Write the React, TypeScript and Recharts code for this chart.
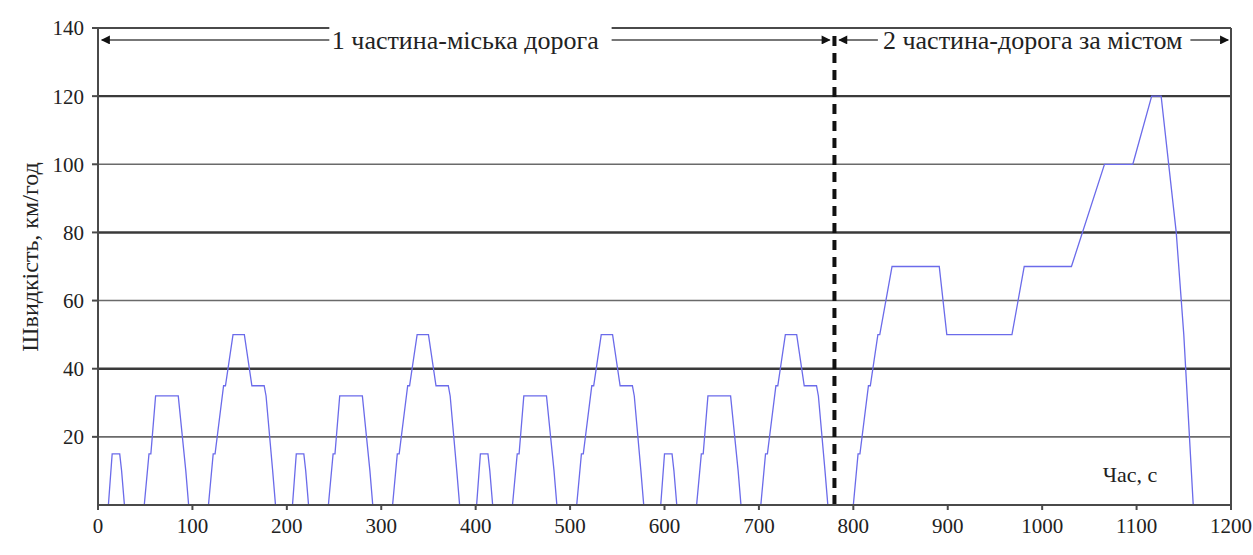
import React from 'react';
import { LineChart, Line, XAxis, YAxis, ReferenceLine, ReferenceDot } from 'recharts';

// [time, speed] pairs, one array per part of the cycle
const urbanCycle1: [number, number][] = [
    [0, 0], [11, 0], [15, 15], [23, 15], [25, 10], [28, 0], [49, 0], [54, 15], [56, 15], [61, 32],
    [85, 32], [93, 10], [96, 0], [117, 0], [122, 15], [124, 15], [133, 35], [135, 35], [143, 50],
    [155, 50], [163, 35], [176, 35], [178, 32], [185, 10], [188, 0], [195, 0],
];
const urbanCycle2: [number, number][] = [
    [206, 0], [210, 15], [218, 15], [220, 10], [223, 0], [244, 0], [249, 15], [251, 15], [256, 32],
    [280, 32], [288, 10], [291, 0], [312, 0], [317, 15], [319, 15], [328, 35], [330, 35], [338, 50],
    [350, 50], [358, 35], [371, 35], [373, 32], [380, 10], [383, 0], [390, 0],
];
const urbanCycle3: [number, number][] = [
    [401, 0], [405, 15], [413, 15], [415, 10], [418, 0], [439, 0], [444, 15], [446, 15], [451, 32],
    [475, 32], [483, 10], [486, 0], [507, 0], [512, 15], [514, 15], [523, 35], [525, 35], [533, 50],
    [545, 50], [553, 35], [566, 35], [568, 32], [575, 10], [578, 0], [585, 0],
];
const urbanCycle4: [number, number][] = [
    [596, 0], [600, 15], [608, 15], [610, 10], [613, 0], [634, 0], [639, 15], [641, 15], [646, 32],
    [670, 32], [678, 10], [681, 0], [702, 0], [707, 15], [709, 15], [718, 35], [720, 35], [728, 50],
    [740, 50], [748, 35], [761, 35], [763, 32], [770, 10], [773, 0], [780, 0],
];
const extraUrban: [number, number][] = [
    [800, 0], [805, 15], [807, 15], [816, 35], [818, 35], [826, 50], [828, 50], [841, 70], [891, 70],
    [899, 50], [968, 50], [981, 70], [1031, 70], [1066, 100], [1096, 100], [1116, 120], [1126, 120],
    [1142, 80], [1150, 50], [1160, 0], [1180, 0],
];

const X_TICKS = [0, 100, 200, 300, 400, 500, 600, 700, 800, 900, 1000, 1100, 1200];
const Y_TICKS = [20, 40, 60, 80, 100, 120, 140];
const DARK_GRID = [40, 80, 120];
const LIGHT_GRID = [20, 60, 100];

const PART_SPLIT = 780;
const PART1_LABEL = '1 частина-міська дорога';
const PART2_LABEL = '2 частина-дорога за містом';
const Y_TITLE = 'Швидкість, км/год';
const X_TITLE = 'Час, с';

const data = [...urbanCycle1, ...urbanCycle2, ...urbanCycle3, ...urbanCycle4, ...extraUrban].map(
    ([t, v]) => ({ t, v })
);

const FONT = "'Liberation Serif', 'Times New Roman', Tinos, 'DejaVu Serif', serif";
const AXIS = '#4a4a4a';
const ARROW_Y = 136.5;

const tickStyle = { fill: '#222', fontSize: 21, fontFamily: FONT, style: { fontFamily: FONT } };
const labelStyle = (size: number) => ({
    fill: '#222',
    fontSize: size,
    fontFamily: FONT,
    style: { fontFamily: FONT },
});

export default function App() {
    return (
        <div style={{ position: 'absolute', left: 0, top: 0, background: '#fff', fontFamily: FONT }}>
            {/* arrow heads for the two part markers */}
            <svg width={0} height={0} style={{ position: 'absolute' }}>
                <defs>
                    <marker id="arrowEnd" viewBox="0 0 10 10" refX="9" refY="5" markerWidth="5.5" markerHeight="4.5" orient="auto">
                        <path d="M0,0 L10,5 L0,10 z" fill="#111" />
                    </marker>
                    <marker id="arrowStart" viewBox="0 0 10 10" refX="1" refY="5" markerWidth="5.5" markerHeight="4.5" orient="auto">
                        <path d="M10,0 L0,5 L10,10 z" fill="#111" />
                    </marker>
                </defs>
            </svg>
            <LineChart
                width={1253}
                height={555}
                data={data}
                margin={{ top: 28, right: 22, left: 0, bottom: 0 }}
                style={{ fontFamily: FONT }}
            >
                <XAxis
                    dataKey="t"
                    type="number"
                    domain={[0, 1200]}
                    ticks={X_TICKS}
                    height={50}
                    stroke={AXIS}
                    strokeWidth={2}
                    tickSize={5}
                    tickMargin={8}
                    tick={tickStyle}
                />
                <YAxis
                    type="number"
                    domain={[0, 140]}
                    ticks={Y_TICKS}
                    width={98}
                    stroke={AXIS}
                    strokeWidth={2}
                    tickSize={6}
                    tickMargin={8}
                    tick={tickStyle}
                    label={{
                        content: () => (
                            <text
                                x={30}
                                y={257}
                                transform="rotate(-90 30 257)"
                                textAnchor="middle"
                                dominantBaseline="central"
                                fill="#222"
                                fontSize={24}
                                style={{ fontFamily: FONT }}
                            >
                                {Y_TITLE}
                            </text>
                        ),
                    }}
                />
                {LIGHT_GRID.map((y) => (
                    <ReferenceLine key={`lg-${y}`} y={y} stroke="#6a6a6a" strokeWidth={1.6} />
                ))}
                {DARK_GRID.map((y) => (
                    <ReferenceLine key={`dg-${y}`} y={y} stroke="#3a3a3a" strokeWidth={2.4} />
                ))}
                {/* frame: right side and top, the top broken behind the first label */}
                <ReferenceLine x={1200} stroke={AXIS} strokeWidth={2} />
                <ReferenceLine segment={[{ x: 0, y: 140 }, { x: 245, y: 140 }]} stroke={AXIS} strokeWidth={2} />
                <ReferenceLine segment={[{ x: 544, y: 140 }, { x: 1200, y: 140 }]} stroke={AXIS} strokeWidth={2} />

                <Line
                    type="linear"
                    dataKey="v"
                    stroke="#6b6bea"
                    strokeWidth={1.3}
                    dot={false}
                    isAnimationActive={false}
                />

                {/* part markers */}
                <ReferenceLine
                    segment={[{ x: PART_SPLIT, y: 0 }, { x: PART_SPLIT, y: 139 }]}
                    stroke="#111"
                    strokeWidth={4}
                    strokeDasharray="10 7"
                />
                <ReferenceLine
                    segment={[{ x: 4, y: ARROW_Y }, { x: 245, y: ARROW_Y }]}
                    stroke="#777"
                    strokeWidth={2}
                    markerStart="url(#arrowStart)"
                />
                <ReferenceLine
                    segment={[{ x: 544, y: ARROW_Y }, { x: 775, y: ARROW_Y }]}
                    stroke="#777"
                    strokeWidth={2}
                    markerEnd="url(#arrowEnd)"
                />
                <ReferenceLine
                    segment={[{ x: 785, y: ARROW_Y }, { x: 826, y: ARROW_Y }]}
                    stroke="#777"
                    strokeWidth={2}
                    markerStart="url(#arrowStart)"
                />
                <ReferenceLine
                    segment={[{ x: 1157, y: ARROW_Y }, { x: 1197, y: ARROW_Y }]}
                    stroke="#777"
                    strokeWidth={2}
                    markerEnd="url(#arrowEnd)"
                />
                <ReferenceDot
                    x={389}
                    y={ARROW_Y}
                    r={0}
                    label={{ value: PART1_LABEL, position: 'center', ...labelStyle(26) }}
                />
                <ReferenceDot
                    x={990}
                    y={ARROW_Y}
                    r={0}
                    label={{ value: PART2_LABEL, position: 'center', ...labelStyle(26) }}
                />
                <ReferenceDot
                    x={1093}
                    y={9}
                    r={0}
                    label={{ value: X_TITLE, position: 'center', ...labelStyle(22) }}
                />
            </LineChart>
        </div>
    );
}
